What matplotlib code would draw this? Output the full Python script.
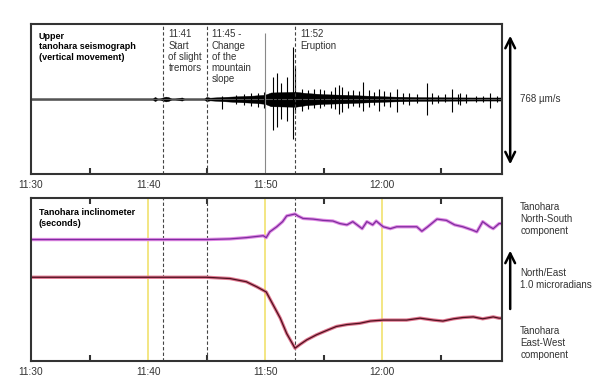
import matplotlib
matplotlib.use("Agg")
import matplotlib.pyplot as plt

plt.rcParams['font.family'] = ['Liberation Sans', 'DejaVu Sans']

# time axis: minutes after 11:30
tick_pos = [0, 10, 20, 30]
tick_labels = ['11:30', '11:40', '11:50', '12:00']
minor_pos = [5, 10, 15, 20, 25, 30, 35]
xmax = 40.25

# event markers (minutes after 11:30)
dashed_events = [11.3, 15.0, 22.6]
yellow_marks = [10, 20, 30]

# seismograph envelope (um/s)
seis_t = [0, 10.4, 10.6, 10.8, 11.0, 11.5, 11.7, 12.0, 12.3, 12.9, 13.1, 13.5,
          14.8, 15.0, 15.3, 17.0, 19.0, 20.0, 20.5, 22.6, 23.5, 25.0, 27.0,
          28.5, 30.0, 31.5, 33.0, 35.0, 38.0, 40.25]
seis_up = [4, 4, 12, 4, 4, 14, 12, 4, 4, 9, 4, 4, 4, 12, 8, 14, 20, 25, 38,
           42, 35, 28, 24, 20, 16, 13, 11, 10, 9, 9]
seis_lo = [-4, -4, -12, -4, -4, -14, -12, -4, -4, -9, -4, -4, -4, -12, -8,
           -15, -22, -28, -42, -45, -36, -28, -24, -20, -16, -13, -11, -10,
           -9, -9]
# individual spikes: time, top, bottom
spike_t = [16.3, 17.5, 18.2, 18.8, 19.4, 19.9, 20.7, 21.0, 21.4, 21.9, 22.4,
           22.55, 23.2, 23.7, 24.2, 24.7, 25.0, 25.6, 26.0, 26.3, 26.6, 27.1,
           27.5, 28.0, 28.4, 28.9, 29.3, 29.7, 30.2, 30.7, 31.3, 31.8, 32.3,
           33.0, 33.8, 34.3, 34.8, 35.4, 36.0, 36.5, 36.7, 37.2, 38.0, 38.6,
           39.2, 39.8]
spike_top = [20, 25, 30, 35, 35, 40, 128, 151, 93, 128, 303, 186, 60, 55, 60,
             58, 52, 47, 70, 81, 70, 45, 50, 45, 99, 50, 40, 58, 45, 40, 58,
             35, 35, 30, 93, 35, 25, 30, 58, 30, 35, 30, 20, 20, 35, 15]
spike_bot = [-60, -30, -35, -40, -45, -50, -180, -163, -116, -128, -233, -80,
             -70, -60, -55, -50, -40, -50, -60, -87, -76, -50, -40, -45, -70,
             -45, -35, -70, -40, -45, -76, -30, -35, -25, -93, -30, -25, -20,
             -76, -30, -35, -25, -20, -15, -52, -15]

# inclinometer (microradians, arbitrary offset)
ns_t = [0, 15.0, 17.0, 18.4, 19.85, 20.1, 20.4, 21.0, 21.5, 21.85, 22.56, 22.8,
        23.25, 24.1, 24.96, 25.8, 26.4, 27.0, 27.5, 28.3, 28.7, 29.2, 29.5,
        30.1, 30.7, 31.25, 32.1, 32.97, 33.4, 33.9, 34.7, 35.5, 36.2, 36.9,
        37.7, 38.1, 38.6, 39.2, 39.5, 40.0, 40.25]
ns_v = [1.90, 1.90, 1.91, 1.93, 1.96, 1.93, 2.02, 2.10, 2.18, 2.27, 2.30, 2.27,
        2.23, 2.22, 2.20, 2.19, 2.15, 2.13, 2.18, 2.07, 2.18, 2.13, 2.19, 2.10,
        2.07, 2.10, 2.10, 2.10, 2.03, 2.10, 2.22, 2.20, 2.13, 2.10, 2.05, 2.02,
        2.18, 2.10, 2.07, 2.15, 2.15]
ew_t = [0, 15.0, 17.0, 18.4, 19.3, 20.1, 20.7, 21.3, 21.85, 22.56, 23.0, 23.56,
        24.4, 25.3, 26.1, 27.0, 28.1, 29.0, 30.1, 31.25, 32.1, 33.25, 34.4,
        35.2, 36.1, 36.9, 37.8, 38.6, 39.5, 40.0, 40.25]
ew_v = [1.31, 1.31, 1.29, 1.24, 1.16, 1.08, 0.875, 0.67, 0.43, 0.20, 0.26, 0.33,
        0.41, 0.48, 0.54, 0.57, 0.59, 0.625, 0.64, 0.64, 0.64, 0.67, 0.64,
        0.625, 0.66, 0.68, 0.69, 0.66, 0.69, 0.67, 0.67]

frame = '#333333'
fig = plt.figure(figsize=(6.09, 3.88), dpi=100)
ax1 = fig.add_axes([0.0509, 0.5515, 0.7734, 0.3866])
ax2 = fig.add_axes([0.0509, 0.0696, 0.7734, 0.4201])

for ax in (ax1, ax2):
    ax.set_xlim(0, xmax)
    for s in ax.spines.values():
        s.set_color(frame)
        s.set_linewidth(1.5)
    ax.set_yticks([])
    ax.set_xticks(tick_pos)
    ax.set_xticklabels(tick_labels, fontsize=7.3, color=frame)
    ax.set_xticks(minor_pos, minor=True)
    ax.tick_params(axis='x', which='major', length=0, pad=4)
    ax.tick_params(axis='x', which='minor', direction='in', length=4,
                   width=1.5, color=frame)

ax2.tick_params(axis='x', which='minor', top=True)

# upper panel - seismograph
ax1.set_ylim(-436, 436)
ax1.plot([0, xmax], [0, 0], color='#555555', lw=0.8)
ax1.fill_between(seis_t, seis_lo, seis_up, color='black', lw=0.3)
ax1.vlines(spike_t, spike_bot, spike_top, color='black', lw=0.8)
ax1.vlines([20], -436, 384, color='#888888', lw=0.8)
for t in dashed_events:
    ax1.axvline(t, color='#444444', lw=0.8, ls=(0, (3, 2)))

ax1.text(0.016, 0.95, 'Upper\ntanohara seismograph\n(vertical movement)',
         transform=ax1.transAxes, fontsize=6.5, fontweight='bold', va='top',
         linespacing=1.25)
ax1.text(11.75, 405, '11:41\nStart\nof slight\ntremors', fontsize=7,
         color=frame, va='top', linespacing=1.15)
ax1.text(15.45, 405, '11:45 -\nChange\nof the\nmountain\nslope', fontsize=7,
         color=frame, va='top', linespacing=1.15)
ax1.text(23.0, 405, '11:52\nEruption', fontsize=7, color=frame, va='top',
         linespacing=1.15)

ax1.annotate('', xy=(xmax + 0.7, 384), xytext=(xmax + 0.7, -396),
             arrowprops=dict(arrowstyle='<->,head_length=0.7,head_width=0.35',
                             lw=1.8, color='black'),
             annotation_clip=False)
ax1.text(xmax + 1.55, 0, '768 µm/s', fontsize=7, color=frame, va='center')

# lower panel - inclinometer
ax2.set_ylim(0, 2.55)
for t in yellow_marks:
    ax2.axvline(t, color='#f2e47a', lw=1.3)
for t in dashed_events:
    ax2.axvline(t, color='#444444', lw=0.8, ls=(0, (3, 2)))
ax2.plot(ns_t, ns_v, color='#e08ae4', lw=2.4, solid_capstyle='butt')
ax2.plot(ns_t, ns_v, color='#7e2d9e', lw=0.9)
ax2.plot(ew_t, ew_v, color='#e07890', lw=2.4, solid_capstyle='butt')
ax2.plot(ew_t, ew_v, color='#501020', lw=0.9)

ax2.text(0.016, 0.94, 'Tanohara inclinometer\n(seconds)',
         transform=ax2.transAxes, fontsize=6.5, fontweight='bold', va='top',
         linespacing=1.25)

ax2.annotate('', xy=(xmax + 0.7, 1.77), xytext=(xmax + 0.7, 0.77),
             arrowprops=dict(arrowstyle='->,head_length=0.7,head_width=0.35',
                             lw=1.8, color='black'),
             annotation_clip=False)
ax2.text(xmax + 1.55, 2.48, 'Tanohara\nNorth-South\ncomponent', fontsize=7,
         color=frame, va='top', linespacing=1.2)
ax2.text(xmax + 1.55, 1.28, 'North/East\n1.0 microradians', fontsize=7,
         color=frame, va='center', linespacing=1.2)
ax2.text(xmax + 1.55, 0.54, 'Tanohara\nEast-West\ncomponent', fontsize=7,
         color=frame, va='top', linespacing=1.2)

plt.savefig('out.png', dpi=100)
